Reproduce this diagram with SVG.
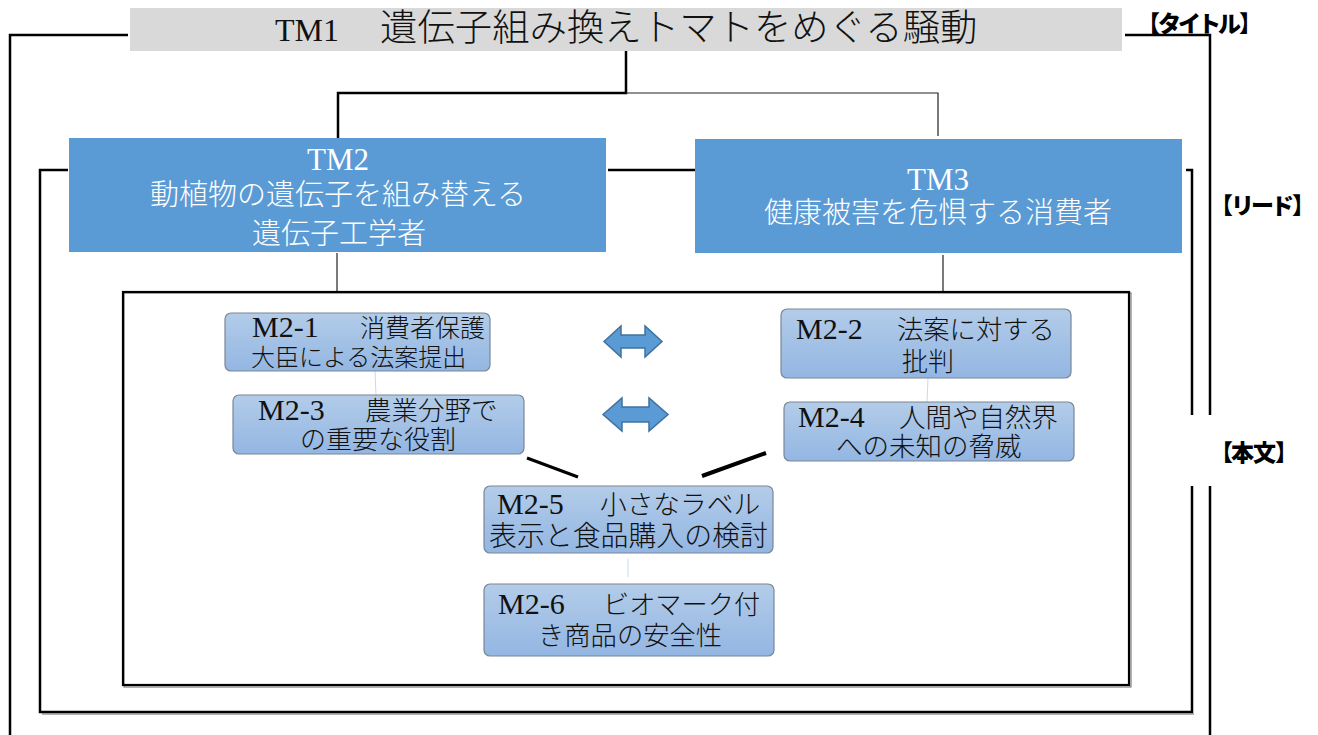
<svg xmlns="http://www.w3.org/2000/svg" width="1318" height="735" viewBox="0 0 1318 735">
<defs>
<linearGradient id="mg" x1="0" y1="0" x2="0" y2="1">
<stop offset="0" stop-color="#b3cce9"/>
<stop offset="1" stop-color="#93b6e2"/>
</linearGradient>
<style>
.br{fill:none;stroke:#000;stroke-width:2.5}
.thin{fill:none;stroke:#222;stroke-width:1.2}
.faint{fill:none;stroke:#c9d9ee;stroke-width:1}
.tm{fill:#5b9bd5}
.m{fill:url(#mg);stroke:#7a8696;stroke-width:1.2}
.arr{fill:#5b9bd5;stroke:#41719c;stroke-width:1.5}
.sf{font-family:"Liberation Serif","Noto Sans CJK JP",serif}
.cj{font-family:"Noto Sans CJK JP","Liberation Serif",serif;font-weight:300}
.wt{fill:#fff}
.bk{fill:#111}
.lab{font-family:"Noto Sans CJK JP",sans-serif;font-weight:900;fill:#000;font-size:23px}
</style>
</defs>
<rect width="1318" height="735" fill="#fff"/>

<g id="connectors">
<polyline class="br" points="128,35 10,35 10,735"/>
<polyline class="br" points="1125,35 1210,35 1210,415"/>
<line class="br" x1="1210" y1="486" x2="1210" y2="735"/>
<polyline class="br" points="68,170 40,170 40,712 1192,712 1192,486"/>
<polyline class="br" points="1186,170 1192,170 1192,415"/>
<line class="br" x1="608" y1="170" x2="695" y2="170"/>
<line x1="42" y1="714" x2="1194" y2="714" stroke="#666" stroke-width="1"/>
<polyline class="br" points="626,51 626,93 338,93 338,138"/>
<polyline class="thin" points="626,93 938,93 938,136"/>
<line class="thin" x1="337" y1="253" x2="337" y2="292"/>
<line class="thin" x1="943" y1="255" x2="943" y2="292"/>
<line class="faint" x1="375" y1="371" x2="376" y2="395"/>
<line class="faint" x1="928" y1="378" x2="927" y2="402"/>
<line class="faint" x1="628" y1="559" x2="628" y2="577"/>
<line x1="527" y1="458" x2="578" y2="477" stroke="#000" stroke-width="3"/>
<line x1="702" y1="476" x2="766" y2="453" stroke="#000" stroke-width="4"/>
<path class="arr" d="M604,341.5 L621,326 L621,335 L645,335 L645,326 L662,341.5 L645,357 L645,348 L621,348 L621,357 Z"/>
<path class="arr" d="M603,414.5 L622,398 L622,407 L649,407 L649,398 L668,414.5 L649,431 L649,422 L622,422 L622,431 Z"/>
</g>

<g id="labels">
<text class="lab" y="32"><tspan x="1137">【</tspan><tspan x="1158" letter-spacing="-3">タイトル</tspan><tspan x="1239">】</tspan></text>
<text class="lab" y="214"><tspan x="1210">【</tspan><tspan x="1231" letter-spacing="-3">リード</tspan><tspan x="1292">】</tspan></text>
<text class="lab" y="461"><tspan x="1210">【</tspan><tspan x="1231" letter-spacing="-1">本文</tspan><tspan x="1275">】</tspan></text>
</g>

<g id="TM1">
<rect x="130" y="8" width="992" height="43" fill="#d9d9d9"/>
<text class="bk" y="41"><tspan class="sf" x="275" font-size="32">TM1</tspan><tspan class="cj" x="380" font-size="37.4">遺伝子組み換えトマトをめぐる騒動</tspan></text>
</g>

<g id="TM2">
<rect class="tm" x="69" y="138" width="537" height="114"/>
<text class="wt" text-anchor="middle"><tspan class="sf" x="338" y="170" font-size="31">TM2</tspan><tspan class="cj" x="338" y="205" font-size="29">動植物の遺伝子を組み替える</tspan><tspan class="cj" x="339" y="244" font-size="29">遺伝子工学者</tspan></text>
</g>

<g id="TM3">
<rect class="tm" x="695" y="139" width="487" height="114"/>
<text class="wt" text-anchor="middle"><tspan class="sf" x="938" y="190" font-size="31">TM3</tspan><tspan class="cj" x="938" y="223" font-size="29">健康被害を危惧する消費者</tspan></text>
</g>

<g id="body">
<rect x="124" y="293" width="1007" height="394" fill="none" stroke="#666" stroke-width="1"/>
<rect x="123" y="292" width="1006" height="393" fill="none" stroke="#000" stroke-width="2.2"/>
</g>

<g id="M2-1">
<rect class="m" x="225" y="313" width="265" height="58" rx="6"/>
<text class="bk"><tspan class="sf" x="252" y="337" font-size="30">M2-1</tspan><tspan class="cj" x="360" y="337" font-size="25">消費者保護</tspan><tspan class="cj" x="251" y="366" font-size="24">大臣による法案提出</tspan></text>
</g>

<g id="M2-3">
<rect class="m" x="233" y="395" width="291" height="59" rx="6"/>
<text class="bk"><tspan class="sf" x="258" y="420" font-size="30">M2-3</tspan><tspan class="cj" x="365" y="420" font-size="26.5">農業分野で</tspan><tspan class="cj" x="300" y="449" font-size="26">の重要な役割</tspan></text>
</g>

<g id="M2-2">
<rect class="m" x="781" y="309" width="290" height="69" rx="6"/>
<text class="bk"><tspan class="sf" x="796" y="339" font-size="30">M2-2</tspan><tspan class="cj" x="897" y="339" font-size="26.3">法案に対する</tspan><tspan class="cj" x="902" y="371" font-size="26">批判</tspan></text>
</g>

<g id="M2-4">
<rect class="m" x="784" y="402" width="290" height="59" rx="6"/>
<text class="bk"><tspan class="sf" x="798" y="427" font-size="30">M2-4</tspan><tspan class="cj" x="899" y="427" font-size="26.5">人間や自然界</tspan><tspan class="cj" x="836" y="456" font-size="26.5">への未知の脅威</tspan></text>
</g>

<g id="M2-5">
<rect class="m" x="484" y="486" width="289" height="67" rx="6"/>
<text class="bk"><tspan class="sf" x="497" y="514" font-size="30">M2-5</tspan><tspan class="cj" x="600" y="514" font-size="26.7">小さなラベル</tspan><tspan class="cj" x="489" y="546" font-size="27.9">表示と食品購入の検討</tspan></text>
</g>

<g id="M2-6">
<rect class="m" x="484" y="584" width="290" height="72" rx="6"/>
<text class="bk"><tspan class="sf" x="498" y="614" font-size="30">M2-6</tspan><tspan class="cj" x="603" y="614" font-size="26.2">ビオマーク付</tspan><tspan class="cj" x="538" y="645" font-size="26.3">き商品の安全性</tspan></text>
</g>
</svg>
